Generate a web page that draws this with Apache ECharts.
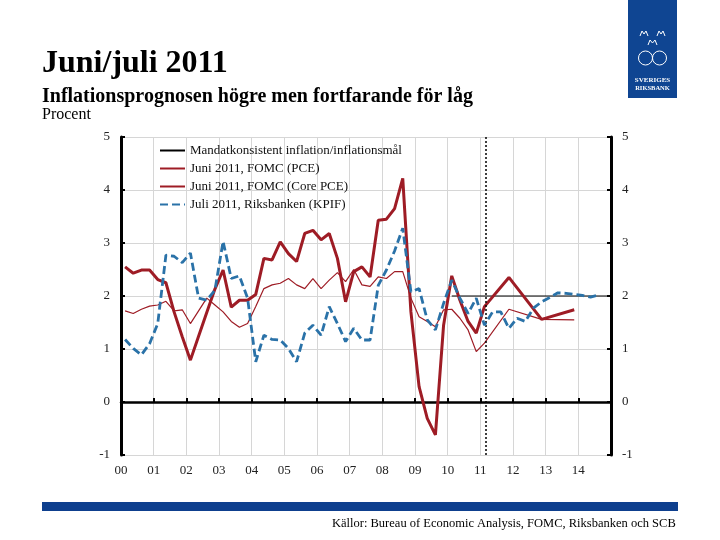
<!DOCTYPE html>
<html>
<head>
<meta charset="utf-8">
<script src="https://cdn.jsdelivr.net/npm/echarts@6/dist/echarts.min.js"></script>
<style>
html,body{margin:0;padding:0;background:#fff;}
#chart{width:720px;height:540px;}
</style>
</head>
<body>
<div id="chart"></div>
<script>
// ---- Data (quarterly, first value = 2000 Q1) ----
var startYear = 2000;
var pceHist = [
  2.55, 2.43, 2.49, 2.49,
  2.31, 2.25, 1.70, 1.23,
  0.79, 1.24, 1.69, 2.13,
  2.49, 1.79, 1.92, 1.92,
  2.03, 2.71, 2.68, 3.02,
  2.80, 2.65, 3.18, 3.24,
  3.06, 3.18, 2.71, 1.89,
  2.46, 2.55, 2.36, 3.43,
  3.45, 3.65, 4.22, 1.70,
  0.29, -0.31, -0.62, 1.45,
  2.38, 1.92, 1.52, 1.30,
  1.80
];
var corePceHist = [
  1.72, 1.67, 1.75, 1.81,
  1.83, 1.90, 1.72, 1.74,
  1.48, 1.72, 1.96, 1.83,
  1.70, 1.52, 1.41, 1.48,
  1.80, 2.14, 2.21, 2.24,
  2.33, 2.21, 2.14, 2.33,
  2.14, 2.30, 2.44, 2.27,
  2.50, 2.21, 2.18, 2.36,
  2.33, 2.46, 2.46, 1.96,
  1.61, 1.52, 1.42, 1.74,
  1.75, 1.58, 1.36, 0.95,
  1.11
];
// FOMC June 2011 projections, Q4 of each year
var fomcYears = [2011, 2012, 2013];
var pceForecast = [2.35, 1.56, 1.74];
var corePceForecast = [1.75, 1.56, 1.55];
// Riksbanken KPIF, outcome + forecast, 2000 Q1 - 2014 Q3
var kpif = [
  1.18, 1.01, 0.89, 1.10,
  1.48, 2.77, 2.75, 2.63,
  2.81, 1.96, 1.92, 2.11,
  3.03, 2.33, 2.38, 1.96,
  0.76, 1.26, 1.18, 1.17,
  1.01, 0.76, 1.30, 1.45,
  1.26, 1.80, 1.48, 1.14,
  1.39, 1.17, 1.17, 2.20,
  2.49, 2.85, 3.28, 2.08,
  2.14, 1.55, 1.36, 1.86,
  2.30, 1.96, 1.67, 1.96,
  1.45, 1.70, 1.70, 1.39,
  1.58, 1.52, 1.77, 1.89,
  1.97, 2.06, 2.05, 2.03,
  2.01, 1.98, 2.02
];
var mandateX = [2010.125, 2015];
var mandateY = [2, 2];
var forecastStart = 2011.17;
var xTickYears = [2000, 2001, 2002, 2003, 2004, 2005, 2006, 2007, 2008, 2009, 2010, 2011, 2012, 2013, 2014];

var names = [
  'Mandatkonsistent inflation/inflationsmål',
  'Juni 2011, FOMC (PCE)',
  'Juni 2011, FOMC (Core PCE)',
  'Juli 2011, Riksbanken (KPIF)'
];

function qx(i) { return startYear + (i + 0.5) / 4; }
function quarterly(arr) { return arr.map(function (v, i) { return [qx(i), v]; }); }
function withForecast(hist, fc) {
  var d = quarterly(hist);
  fc.forEach(function (v, i) { d.push([fomcYears[i] + 0.875, v]); });
  return d;
}

var RED = '#9e1c25';
var BLUE = '#2a72a8';
var SERIF = "'Liberation Serif','Times New Roman',serif";

var chart = echarts.init(document.getElementById('chart'), null, {renderer: 'canvas'});
var option = {
  animation: false,
  backgroundColor: '#fff',
  grid: {left: 121, right: 109, top: 137, bottom: 85},
  legend: {
    orient: 'vertical', left: 154, top: 139,
    itemWidth: 25, itemHeight: 12, itemGap: 5,
    itemStyle: {opacity: 0},
    textStyle: {fontFamily: SERIF, fontSize: 13, color: '#111'},
    data: names
  },
  xAxis: [
    {
      type: 'value', min: 2000, max: 2015, interval: 1, position: 'bottom',
      axisLine: {show: false}, axisTick: {show: false},
      axisLabel: {
        margin: 9, fontFamily: SERIF, fontSize: 13, color: '#222',
        formatter: function (v) {
          if (xTickYears.indexOf(v) < 0) return '';
          return String(v).slice(2);
        }
      },
      splitLine: {show: true, lineStyle: {color: '#d6d6d6', width: 1}}
    },
    {
      type: 'value', min: 2000, max: 2015, interval: 1, position: 'bottom',
      axisLine: {show: true, onZero: true, lineStyle: {color: '#000', width: 2.5}},
      axisTick: {show: true, inside: true, length: 4, lineStyle: {color: '#000', width: 2}},
      axisLabel: {show: false}, splitLine: {show: false}
    }
  ],
  yAxis: [
    {
      type: 'value', min: -1, max: 5, interval: 1, position: 'left',
      axisLine: {show: true, onZero: false, lineStyle: {color: '#000', width: 3}},
      axisTick: {show: true, inside: true, length: 4, lineStyle: {color: '#000', width: 2}},
      axisLabel: {margin: 11, fontFamily: SERIF, fontSize: 13, color: '#222'},
      splitLine: {show: true, lineStyle: {color: '#d6d6d6', width: 1}}
    },
    {
      type: 'value', min: -1, max: 5, interval: 1, position: 'right',
      axisLine: {show: true, onZero: false, lineStyle: {color: '#000', width: 3}},
      axisTick: {show: true, inside: true, length: 4, lineStyle: {color: '#000', width: 2}},
      axisLabel: {margin: 11, fontFamily: SERIF, fontSize: 13, color: '#222'},
      splitLine: {show: false}
    }
  ],
  series: [
    {
      name: names[0], type: 'line', symbol: 'none', z: 3,
      data: mandateX.map(function (x, i) { return [x, mandateY[i]]; }),
      lineStyle: {color: '#000', width: 1}, itemStyle: {color: '#000'},
      markLine: {
        silent: true, symbol: 'none', label: {show: false},
        lineStyle: {color: '#000', type: [2, 2], width: 1.5},
        data: [{xAxis: forecastStart}]
      }
    },
    {
      name: names[1], type: 'line', symbol: 'none', z: 4,
      data: withForecast(pceHist, pceForecast),
      lineStyle: {color: RED, width: 3}, itemStyle: {color: RED}
    },
    {
      name: names[2], type: 'line', symbol: 'none', z: 4,
      data: withForecast(corePceHist, corePceForecast),
      lineStyle: {color: RED, width: 1.2}, itemStyle: {color: RED}
    },
    {
      name: names[3], type: 'line', symbol: 'none', z: 5,
      data: quarterly(kpif),
      lineStyle: {color: BLUE, width: 2.8, type: [8, 4]}, itemStyle: {color: BLUE}
    }
  ],
  graphic: [
    {type: 'text', left: 42, top: 48, style: {text: 'Juni/juli 2011', font: 'bold 32px ' + SERIF, fill: '#000'}},
    {type: 'text', left: 42, top: 87, style: {text: 'Inflationsprognosen högre men fortfarande för låg', font: 'bold 20px ' + SERIF, fill: '#000'}},
    {type: 'text', left: 42, top: 107, style: {text: 'Procent', font: '16px ' + SERIF, fill: '#000'}},
    {type: 'rect', shape: {x: 42, y: 502, width: 636, height: 9}, style: {fill: '#0e3f8e'}},
    {type: 'text', left: 332, top: 517, style: {text: 'Källor: Bureau of Economic Analysis, FOMC, Riksbanken och SCB', font: '12.5px ' + SERIF, fill: '#000'}},
    {type: 'rect', shape: {x: 628, y: 0, width: 49, height: 98}, style: {fill: '#0f4592'}},
    {type: 'polyline', shape: {points: [[640, 36], [642, 31], [644, 34], [646, 31], [648, 36]]}, style: {fill: 'none', stroke: '#fff', lineWidth: 1}},
    {type: 'polyline', shape: {points: [[657, 36], [659, 31], [661, 34], [663, 31], [665, 36]]}, style: {fill: 'none', stroke: '#fff', lineWidth: 1}},
    {type: 'polyline', shape: {points: [[648, 45], [650, 40], [652.5, 43], [655, 40], [657, 45]]}, style: {fill: 'none', stroke: '#fff', lineWidth: 1}},
    {type: 'circle', shape: {cx: 645.5, cy: 58, r: 7}, style: {fill: 'none', stroke: '#fff', lineWidth: 1}},
    {type: 'circle', shape: {cx: 659.5, cy: 58, r: 7}, style: {fill: 'none', stroke: '#fff', lineWidth: 1}},
    {type: 'text', x: 652.5, y: 80, style: {text: 'SVERIGES', font: 'bold 7px ' + SERIF, fill: '#fff', align: 'center', verticalAlign: 'middle'}},
    {type: 'text', x: 652.5, y: 88, style: {text: 'RIKSBANK', font: 'bold 6.5px ' + SERIF, fill: '#fff', align: 'center', verticalAlign: 'middle'}}
  ]
};
chart.setOption(option);
</script>
</body>
</html>
